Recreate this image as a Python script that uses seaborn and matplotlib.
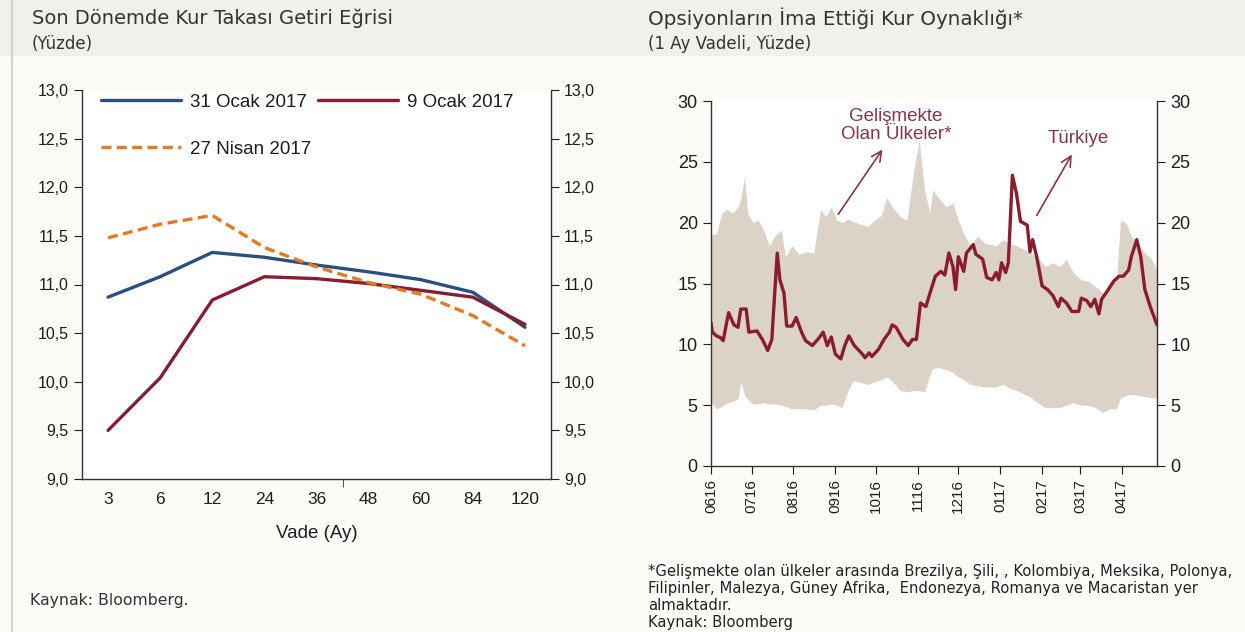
import numpy as np
import pandas as pd
import matplotlib
matplotlib.use("Agg")
import matplotlib.pyplot as plt
import matplotlib.dates as mdates
from matplotlib.ticker import FuncFormatter
from matplotlib.patches import Rectangle
from matplotlib.lines import Line2D
import seaborn as sns

# ----------------------------
# DATA - left panel (swap yield curve)
# ----------------------------

vade = ["3", "6", "12", "24", "36", "48", "60", "84", "120"]
ocak31 = [10.87, 11.08, 11.33, 11.28, 11.20, 11.13, 11.05, 10.92, 10.56]
ocak9 = [9.50, 10.04, 10.84, 11.08, 11.06, 11.01, 10.94, 10.87, 10.59]
nisan27 = [11.48, 11.62, 11.71, 11.38, 11.18, 11.02, 10.90, 10.68, 10.37]

# ----------------------------
# DATA - right panel (implied volatility)
# ----------------------------

tr_dates = [
    "2016-06-01", "2016-06-02", "2016-06-05", "2016-06-08", "2016-06-10", "2016-06-14",
    "2016-06-18", "2016-06-21", "2016-06-23", "2016-06-27", "2016-06-29", "2016-07-05",
    "2016-07-09", "2016-07-13", "2016-07-16", "2016-07-20", "2016-07-22", "2016-07-25",
    "2016-07-27", "2016-07-31", "2016-08-03", "2016-08-07", "2016-08-10", "2016-08-15",
    "2016-08-19", "2016-08-23", "2016-08-26", "2016-08-29", "2016-09-01", "2016-09-05",
    "2016-09-08", "2016-09-11", "2016-09-15", "2016-09-21", "2016-09-23", "2016-09-26",
    "2016-09-28", "2016-10-03", "2016-10-07", "2016-10-11", "2016-10-13", "2016-10-16",
    "2016-10-21", "2016-10-25", "2016-10-28", "2016-10-31", "2016-11-03", "2016-11-07",
    "2016-11-10", "2016-11-14", "2016-11-18", "2016-11-21", "2016-11-24", "2016-11-27",
    "2016-11-29", "2016-12-01", "2016-12-05", "2016-12-07", "2016-12-12", "2016-12-14",
    "2016-12-19", "2016-12-22", "2016-12-26", "2016-12-29", "2016-12-31", "2017-01-02",
    "2017-01-05", "2017-01-07", "2017-01-10", "2017-01-13", "2017-01-16", "2017-01-21",
    "2017-01-23", "2017-01-25", "2017-01-28", "2017-02-01", "2017-02-05", "2017-02-09",
    "2017-02-13", "2017-02-15", "2017-02-19", "2017-02-23", "2017-02-28", "2017-03-02",
    "2017-03-06", "2017-03-09", "2017-03-12", "2017-03-15", "2017-03-17", "2017-03-22",
    "2017-03-26", "2017-03-30", "2017-04-02", "2017-04-06", "2017-04-08", "2017-04-12",
    "2017-04-15", "2017-04-18", "2017-04-22", "2017-04-27",
]
tr_vol = [
    11.8, 11.0, 10.7, 10.55, 10.3, 12.6,
    11.6, 11.4, 12.9, 12.9, 11.0, 11.1,
    10.4, 9.5, 10.4, 17.5, 15.3, 14.2,
    11.5, 11.5, 12.2, 11.0, 10.3, 9.9,
    10.4, 11.0, 9.9, 10.6, 9.2, 8.8,
    9.9, 10.7, 9.9, 9.2, 8.9, 9.3,
    9.0, 9.6, 10.4, 11.0, 11.6, 11.4,
    10.4, 9.9, 10.4, 10.4, 13.4, 13.1,
    14.2, 15.6, 16.0, 15.7, 17.5, 16.4,
    14.5, 17.2, 16.0, 17.5, 18.2, 17.4,
    17.0, 15.5, 15.3, 15.9, 15.3, 16.7,
    15.9, 16.7, 23.9, 22.4, 20.1, 19.8,
    17.6, 18.6, 17.2, 14.8, 14.5, 14.0,
    13.1, 13.8, 13.4, 12.7, 12.7, 13.8,
    13.6, 13.1, 13.7, 12.5, 13.7, 14.5,
    15.2, 15.6, 15.6, 16.1, 17.2, 18.6,
    17.2, 14.5, 13.1, 11.6,
]

em_dates = [
    "2016-06-01", "2016-06-05", "2016-06-09", "2016-06-13", "2016-06-17", "2016-06-21",
    "2016-06-23", "2016-06-26", "2016-06-28", "2016-07-02", "2016-07-06", "2016-07-10",
    "2016-07-14", "2016-07-18", "2016-07-23", "2016-07-26", "2016-07-31", "2016-08-05",
    "2016-08-11", "2016-08-16", "2016-08-21", "2016-08-25", "2016-08-29", "2016-09-02",
    "2016-09-06", "2016-09-10", "2016-09-14", "2016-09-19", "2016-09-25", "2016-09-30",
    "2016-10-05", "2016-10-09", "2016-10-13", "2016-10-19", "2016-10-24", "2016-10-29",
    "2016-11-02", "2016-11-06", "2016-11-10", "2016-11-12", "2016-11-16", "2016-11-22",
    "2016-11-27", "2016-12-01", "2016-12-05", "2016-12-10", "2016-12-15", "2016-12-21",
    "2016-12-29", "2017-01-03", "2017-01-08", "2017-01-13", "2017-01-19", "2017-01-24",
    "2017-01-30", "2017-02-03", "2017-02-09", "2017-02-14", "2017-02-19", "2017-02-24",
    "2017-03-02", "2017-03-07", "2017-03-12", "2017-03-18", "2017-03-23", "2017-03-28",
    "2017-03-31", "2017-04-04", "2017-04-08", "2017-04-13", "2017-04-18", "2017-04-23",
    "2017-04-27",
]
em_high = [
    19.0, 19.1, 20.8, 21.1, 20.8, 21.3,
    22.0, 23.8, 20.8, 20.0, 20.2, 19.4,
    18.1, 18.9, 19.4, 17.2, 18.1, 17.4,
    17.6, 17.5, 21.1, 20.5, 21.3, 20.2,
    20.0, 20.3, 20.1, 19.9, 19.7, 20.2,
    20.6, 22.1, 21.3, 20.5, 20.2, 24.3,
    26.8, 22.7, 20.8, 22.7, 22.1, 21.3,
    21.6, 20.2, 19.1, 18.1, 18.9, 18.3,
    18.1, 18.6, 18.3, 18.1, 17.8, 17.5,
    17.0, 16.4, 16.7, 16.4, 17.0, 15.9,
    15.3, 15.2, 14.8, 14.2, 15.1, 15.3,
    20.2, 20.0, 18.9, 18.3, 17.5, 17.0,
    16.1,
]
em_low = [
    5.2, 4.7, 4.9, 5.2, 5.3, 5.5,
    6.9, 5.8, 5.5, 5.1, 5.1, 5.2,
    5.1, 5.1, 5.0, 4.9, 4.7, 4.7,
    4.7, 4.6, 5.0, 5.0, 5.1, 5.0,
    4.8, 6.1, 7.0, 6.9, 6.7, 6.9,
    7.1, 7.3, 7.0, 6.2, 6.1, 6.2,
    6.2, 6.1, 7.5, 8.0, 8.1, 7.9,
    7.7, 7.3, 7.1, 6.7, 6.6, 6.5,
    6.5, 6.7, 6.4, 6.2, 5.9, 5.6,
    5.1, 4.8, 4.8, 4.8, 5.0, 5.2,
    5.0, 5.0, 4.8, 4.4, 4.7, 4.7,
    5.6, 5.8, 5.9, 5.8, 5.7, 5.6,
    5.6,
]

# ----------------------------
# STYLE
# ----------------------------

sns.set_style("ticks")
plt.rcParams["font.family"] = ["Liberation Sans", "DejaVu Sans"]

BLUE = "#2b4f7e"
RED = "#8a1c2e"
ORANGE = "#e8791e"
BAND = "#dcd3c8"
TEXT = "#1e1e1e"
ANNOT = "#8b3348"
TITLE_FONT = ["DejaVu Sans"]

W, H = 1245, 632

fig = plt.figure(figsize=(12.45, 6.32), dpi=100)
fig.patch.set_facecolor("#fcfbf8")
fig.patches.append(Rectangle((0, 1 - 55 / H), 1, 55 / H, transform=fig.transFigure,
                             color="#f2f0eb", zorder=0))
fig.add_artist(Line2D([12 / W, 12 / W], [0, 1], color="#d6d2ca", lw=1.5))

comma = FuncFormatter(lambda v, p: f"{v:.1f}".replace(".", ","))

# ----------------------------
# LEFT PANEL
# ----------------------------

ax1 = fig.add_axes([82 / W, (H - 479) / H, 469 / W, 389 / H])
ax1.set_facecolor("white")
x = np.arange(len(vade))

sns.lineplot(x=x, y=ocak31, ax=ax1, color=BLUE, lw=2.4, label="31 Ocak 2017")
sns.lineplot(x=x, y=ocak9, ax=ax1, color=RED, lw=2.4, label="9 Ocak 2017")
sns.lineplot(x=x, y=nisan27, ax=ax1, color=ORANGE, lw=2.4, label="27 Nisan 2017")
ax1.lines[2].set_dashes([3, 1.6])

handles, labels = ax1.get_legend_handles_labels()
order = [0, 2, 1]
ax1.legend([handles[i] for i in order], [labels[i] for i in order], ncol=2,
           loc="upper left", bbox_to_anchor=(0.012, 1.025), frameon=False,
           fontsize=13.5, handlelength=4.3, handletextpad=0.45, columnspacing=0.35,
           labelspacing=1.6, borderpad=0.2)
for t in ax1.get_legend().get_texts():
    t.set_color(TEXT)

ax1.set_xlim(-0.5, len(vade) - 0.5)
ax1.set_ylim(9, 13)
ax1.set_yticks(np.arange(9, 13.01, 0.5))
ax1.yaxis.set_major_formatter(comma)
ax1.set_xticks(x)
ax1.set_xticklabels(vade)
ax1.set_xticks([4.5], minor=True)
ax1.tick_params(axis="x", which="major", length=0, pad=9, labelsize=12.5, colors=TEXT)
ax1.tick_params(axis="x", which="minor", length=6, direction="out", color="#333333")
ax1.tick_params(axis="y", left=True, right=True, labelleft=True, labelright=True,
                length=6, direction="out", labelsize=11.5, colors=TEXT)
ax1.set_xlabel("Vade (Ay)", fontsize=13.5, color=TEXT, labelpad=13)
ax1.set_ylabel("")
ax1.spines["top"].set_visible(False)
for s in ["left", "right", "bottom"]:
    ax1.spines[s].set_color("#333333")
    ax1.spines[s].set_linewidth(1.0)

# ----------------------------
# RIGHT PANEL
# ----------------------------

tr_x = pd.to_datetime(tr_dates)
em_x = pd.to_datetime(em_dates)

ax2 = fig.add_axes([711 / W, (H - 466) / H, 446 / W, 365 / H])
ax2.set_facecolor("white")
ax2.fill_between(em_x, em_low, em_high, color=BAND, lw=0)
sns.lineplot(x=tr_x, y=tr_vol, ax=ax2, color=RED, lw=2.4)

ax2.set_xlim(pd.Timestamp("2016-06-01"), pd.Timestamp("2017-04-27"))
ax2.set_ylim(0, 30)
ax2.set_yticks(range(0, 31, 5))
ax2.xaxis.set_major_locator(mdates.MonthLocator())
ax2.xaxis.set_major_formatter(mdates.DateFormatter("%m%y"))
ax2.tick_params(axis="x", length=6, direction="out", rotation=90, labelsize=11, colors=TEXT)
ax2.tick_params(axis="y", left=True, right=True, labelleft=True, labelright=True,
                length=6, direction="out", labelsize=13, colors=TEXT)
ax2.set_xlabel("")
ax2.set_ylabel("")
ax2.spines["top"].set_visible(False)
for s in ["left", "right", "bottom"]:
    ax2.spines[s].set_color("#333333")
    ax2.spines[s].set_linewidth(1.0)

ax2.text(pd.Timestamp("2016-10-16"), 28.0, "Gelişmekte\nOlan Ülkeler*", ha="center",
         va="center", fontsize=13.5, color=ANNOT, linespacing=1.05)
ax2.annotate("", xy=(pd.Timestamp("2016-10-07"), 26.2), xytext=(pd.Timestamp("2016-09-02"), 20.5),
             arrowprops=dict(arrowstyle="->", color=ANNOT, lw=1.2, mutation_scale=18))
ax2.text(pd.Timestamp("2017-02-28"), 26.9, "Türkiye", ha="center", va="center",
         fontsize=13.5, color=ANNOT)
ax2.annotate("", xy=(pd.Timestamp("2017-02-24"), 25.8), xytext=(pd.Timestamp("2017-01-27"), 20.4),
             arrowprops=dict(arrowstyle="->", color=ANNOT, lw=1.2, mutation_scale=18))

# ----------------------------
# TITLES AND NOTES
# ----------------------------

fig.text(32 / W, 1 - 18 / H, "Son Dönemde Kur Takası Getiri Eğrisi", fontsize=14,
         color="#333333", family=TITLE_FONT, va="center")
fig.text(32 / W, 1 - 44 / H, "(Yüzde)", fontsize=12, color="#333333",
         family=TITLE_FONT, va="center")
fig.text(648 / W, 1 - 18 / H, "Opsiyonların İma Ettiği Kur Oynaklığı*", fontsize=14.3,
         color="#333333", family=TITLE_FONT, va="center")
fig.text(648 / W, 1 - 44 / H, "(1 Ay Vadeli, Yüzde)", fontsize=12, color="#333333",
         family=TITLE_FONT, va="center")

fig.text(30 / W, 1 - 600 / H, "Kaynak: Bloomberg.", fontsize=11.3, color="#333333",
         family=TITLE_FONT, va="center")
note = ("*Gelişmekte olan ülkeler arasında Brezilya, Şili, , Kolombiya, Meksika, Polonya,\n"
        "Filipinler, Malezya, Güney Afrika,  Endonezya, Romanya ve Macaristan yer\n"
        "almaktadır.\n"
        "Kaynak: Bloomberg")
fig.text(648 / W, 1 - 564 / H, note, fontsize=10.6, color="#222222", family=TITLE_FONT,
         va="top", linespacing=1.17)

plt.savefig("out.png", dpi=100, facecolor=fig.get_facecolor())
